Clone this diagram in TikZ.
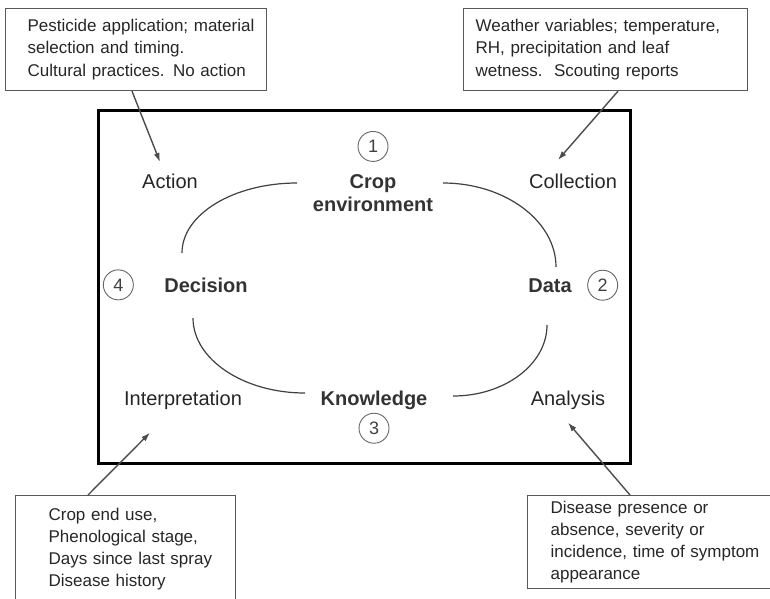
\documentclass[tikz,border=0pt]{standalone}
\usepackage{fontspec}
\setmainfont{Liberation Sans}
\usetikzlibrary{arrows.meta, positioning}
\newcommand{\cyclefont}{\fontsize{20}{23}\selectfont}
\newcommand{\infofont}{\fontsize{17}{22}\selectfont}

\begin{document}
\begin{tikzpicture}[
    x=1pt, y=-1pt,
    every node/.style={font=\cyclefont},
    stage/.style={anchor=base, text=black!85},
    core/.style={font=\cyclefont\bfseries, text=black!80},
    numcirc/.style={circle, draw=black!60, line width=0.9pt, minimum size=30pt, inner sep=0pt, font=\fontsize{18}{18}\selectfont, text=black!75},
    infobox/.style={rectangle, draw=black!65, line width=1.2pt, anchor=north west, align=left, inner xsep=0pt, inner ysep=0pt, font=\infofont, text=black!85},
    pointer/.style={-{Latex[length=9pt, width=6pt]}, line width=1.4pt, draw=black!70},
    loopline/.style={line width=1.2pt, draw=black!75}
]
\useasboundingbox (0,0) rectangle (770,598);
\clip (0,0) rectangle (770,598);

% Frame
\draw[line width=3pt] (98,110) rectangle (630,463);

% Cycle stages
\node[core, align=center] (crop) at (373,193) {Crop\\environment};
\node[stage, core] (decision) at (206,292) {Decision};
\node[stage, core] (data) at (550,292) {Data};
\node[stage, core] (knowledge) at (374,405) {Knowledge};

\node[numcirc, above=9pt of crop] (n1) {1};
\node[numcirc, right=12pt of data] (n2) {2};
\node[numcirc, below=0pt of knowledge] (n3) {3};
\node[numcirc, left=27pt of decision] (n4) {4};

% Steps between stages
\node[stage] (action) at (170,188) {Action};
\node[stage] (collection) at (573,188) {Collection};
\node[stage] (interp) at (183,405) {Interpretation};
\node[stage] (analysis) at (568,405) {Analysis};

% Arc ends
\coordinate (envW) at (297,183);
\coordinate (envE) at (443,183);
\coordinate (decN) at (182,253);
\coordinate (decS) at (193,318);
\coordinate (datN) at (556,267);
\coordinate (datS) at (547,325);
\coordinate (knoW) at (305,393);
\coordinate (knoE) at (453,396);

\draw[loopline] (envW) .. controls +(-63,0) and +(0,-39) .. (decN);
\draw[loopline] (envE) .. controls +(62,0) and +(0,-46) .. (datN);
\draw[loopline] (decS) .. controls +(0,41) and +(-62,0) .. (knoW);
\draw[loopline] (knoE) .. controls +(52,0) and +(0,39) .. (datS);

% Notes
\node[infobox, text width=261pt, minimum height=82pt] (actnote) at (5,8)
    {\leftskip=22pt\relax Pesticide application; material\\selection and timing.\\Cultural practices. No action\par};
\node[infobox, text width=284pt, minimum height=82pt] (colnote) at (463,8)
    {\leftskip=12pt\relax Weather variables; temperature,\\RH, precipitation and leaf\\wetness.\ \ Scouting reports\par};
\node[infobox, text width=220pt, minimum height=106pt] (intnote) at (15,495)
    {\leftskip=33pt\relax Crop end use,\\Phenological stage,\\Days since last spray\\Disease history\par};
\node[infobox, text width=273pt, minimum height=93pt] (ananote) at (527,495)
    {\leftskip=23pt\relax Disease presence or\\absence, severity or\\incidence, time of symptom\\appearance\par};

% Pointers
\draw[pointer] ([xshift=127pt]actnote.south west) -- ([xshift=-10pt, yshift=8pt]action.north);
\draw[pointer] ([xshift=155pt]colnote.south west) -- ([xshift=-15pt, yshift=10pt]collection.north);
\draw[pointer] ([xshift=73pt]intnote.north west) -- ([xshift=-33pt, yshift=-20pt]interp.south);
\draw[pointer] ([xshift=103pt]ananote.north west) -- ([yshift=-10pt]analysis.south);

\end{tikzpicture}
\end{document}
